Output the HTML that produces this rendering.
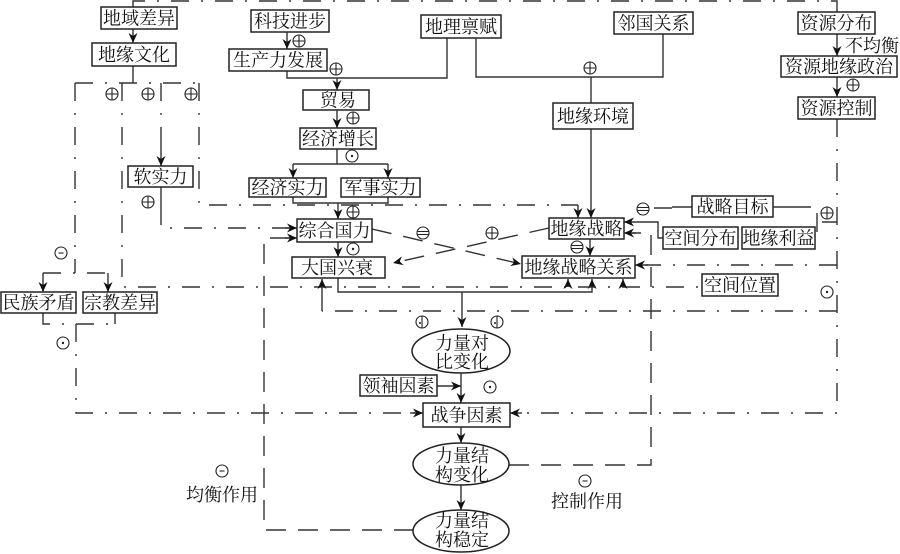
<!DOCTYPE html>
<html><head><meta charset="utf-8"><style>
html,body{margin:0;padding:0;background:#fff;}
svg{display:block;}
text{font-family:"Liberation Serif","Noto Serif CJK SC","Noto Sans CJK SC",serif;font-size:18px;fill:#111;}
.b{fill:#fff;stroke:#222;stroke-width:1.5;}
.s{fill:none;stroke:#333;stroke-width:1.4;}
.dd{fill:none;stroke:#333;stroke-width:1.4;stroke-dasharray:18 12 2 12;}
.da{fill:none;stroke:#333;stroke-width:1.4;stroke-dasharray:20 12;}
.c{fill:#fff;stroke:#222;stroke-width:1.1;}
.m{stroke:#222;stroke-width:1.1;fill:none;}
</style></head><body>
<svg width="900" height="554" viewBox="0 0 900 554" xmlns="http://www.w3.org/2000/svg">
<defs>
<marker id="a" markerUnits="userSpaceOnUse" markerWidth="11" markerHeight="9" refX="10" refY="4.5" orient="auto">
<path d="M0,0 L10,4.5 L0,9 L3,4.5 z" fill="#111"/>
</marker>
<g id="plus"><circle class="c" cx="0" cy="0" r="6"/><path class="m" d="M-6,0H6M0,-6V6"/></g>
<g id="dot"><circle class="c" cx="0" cy="0" r="6"/><circle cx="0" cy="0" r="1.2" fill="#222"/></g>
<g id="minus"><circle class="c" cx="0" cy="0" r="6"/><path class="m" d="M-2.5,0H2.5"/></g>
<g id="eq"><circle class="c" cx="0" cy="0" r="6"/><path class="m" d="M-6,-1.5H6M-6,1.5H6"/></g>
<g id="vb"><circle class="c" cx="0" cy="0" r="6"/><path class="m" d="M0,-6V6"/><circle cx="-2" cy="1" r="1" fill="#222"/></g>
</defs>

<!-- ===== connectors ===== -->
<!-- top loop -->
<path class="dd" d="M133,7 V1 H837 V12"/>
<path class="s" d="M133,29 V43" marker-end="url(#a)"/>
<path class="s" d="M287,32 V49" marker-end="url(#a)"/>
<path class="s" d="M287,71 V78 H447 V38"/>
<path class="s" d="M337,78 V90" marker-end="url(#a)"/>
<path class="s" d="M476,38 V77 H663 V34"/>
<path class="s" d="M591,77 V103"/>
<path class="s" d="M591,129 V218" marker-end="url(#a)"/>
<path class="s" d="M837,34 V56" marker-end="url(#a)"/>
<path class="s" d="M837,77 V97" marker-end="url(#a)"/>
<path class="s" d="M337,110 V128" marker-end="url(#a)"/>
<path class="s" d="M337,149 V164 M293,164 H388"/>
<path class="s" d="M293,164 V178" marker-end="url(#a)"/>
<path class="s" d="M388,164 V178" marker-end="url(#a)"/>
<path class="s" d="M293,197 V203 H388 V197"/>
<path class="s" d="M338,203 V219" marker-end="url(#a)"/>
<path class="s" d="M338,242 V257" marker-end="url(#a)"/>
<path class="s" d="M338,278 V292 H592 V279" marker-end="url(#a)"/>
<path class="s" d="M462,292 V327" marker-end="url(#a)"/>
<path class="s" d="M590,239 V256" marker-end="url(#a)"/>
<!-- cross lines -->
<path class="da" d="M372,229 L521,264" marker-end="url(#a)"/>
<path class="da" d="M549,228 L393,263" marker-end="url(#a)"/>
<!-- 地缘文化 branches -->
<path class="s" d="M133,66 V83"/>
<path class="dd" d="M75,83 H199"/>
<path class="dd" d="M75,83 V273"/>
<path class="dd" d="M43,273 H108"/>
<path class="s" d="M43,273 V292" marker-end="url(#a)"/>
<path class="s" d="M108,273 V292" marker-end="url(#a)"/>
<path class="dd" d="M122,83 V287 H702"/>
<path class="dd" d="M161,83 V130"/>
<path class="s" d="M161,130 V166" marker-end="url(#a)"/>
<path class="dd" d="M199,83 V205 H578"/>
<path class="s" d="M578,205 V218" marker-end="url(#a)"/>
<path class="s" d="M161,187 V207"/>
<path class="dd" d="M161,207 V228 H290"/>
<path class="s" d="M285,228 H297" marker-end="url(#a)"/>
<path class="s" d="M568,287 V279" marker-end="url(#a)"/>
<path class="s" d="M623,287 V279" marker-end="url(#a)"/>
<!-- 民族/宗教 -->
<path class="dd" d="M43,313 V324 H115"/>
<path class="s" d="M115,313 V324"/>
<path class="dd" d="M76,324 V413 H415"/>
<path class="s" d="M410,413 H423" marker-end="url(#a)"/>
<!-- 均衡作用 loop -->
<path class="da" d="M414,530 H264 V238 H290"/>
<path class="s" d="M285,238 H297" marker-end="url(#a)"/>
<!-- 控制作用 loop -->
<path class="da" d="M509,465 H651 V233 H632"/>
<path class="s" d="M636,233 H624" marker-end="url(#a)"/>
<!-- 空间分布 -->
<path class="s" d="M663,238 H658 V222 H624" marker-end="url(#a)"/>
<!-- 战略目标 -->
<path class="s" d="M692,207 H672"/>
<path class="dd" d="M672,208 H650"/>
<path class="s" d="M773,207 H793"/>
<path class="dd" d="M793,207 H812"/>
<!-- 地缘利益 right -->
<path class="s" d="M817,213 V232 M822,222 H837"/>
<!-- right vertical -->
<path class="dd" d="M837,119 V413 H518"/>
<path class="s" d="M522,413 H510" marker-end="url(#a)"/>
<path class="dd" d="M837,265 H645"/>
<path class="s" d="M648,265 H635" marker-end="url(#a)"/>
<path class="dd" d="M837,311 H322"/>
<path class="s" d="M322,311 V279" marker-end="url(#a)"/>
<!-- lower chain -->
<path class="s" d="M437,386 H461" marker-end="url(#a)"/>
<path class="s" d="M461,373 V403" marker-end="url(#a)"/>
<path class="s" d="M461,427 V443" marker-end="url(#a)"/>
<path class="s" d="M461,485 V510" marker-end="url(#a)"/>

<!-- ===== boxes ===== -->
<rect class="b" x="101" y="7" width="76" height="22"/><text x="139" y="24.5" text-anchor="middle">地域差异</text>
<rect class="b" x="92" y="43" width="84" height="23"/><text x="134" y="61" text-anchor="middle">地缘文化</text>
<rect class="b" x="251" y="10" width="78" height="22"/><text x="290" y="27.5" text-anchor="middle">科技进步</text>
<rect class="b" x="229" y="49" width="98" height="22"/><text x="278" y="66.5" text-anchor="middle">生产力发展</text>
<rect class="b" x="421" y="15" width="80" height="23"/><text x="461" y="33" text-anchor="middle">地理禀赋</text>
<rect class="b" x="614" y="12" width="79" height="22"/><text x="653.5" y="29.5" text-anchor="middle">邻国关系</text>
<rect class="b" x="798" y="12" width="77" height="22"/><text x="836.5" y="29.5" text-anchor="middle">资源分布</text>
<text x="845" y="52">不均衡</text>
<rect class="b" x="781" y="56" width="116" height="21"/><text x="839" y="73" text-anchor="middle">资源地缘政治</text>
<rect class="b" x="798" y="97" width="77" height="22"/><text x="836.5" y="114.5" text-anchor="middle">资源控制</text>
<rect class="b" x="553" y="103" width="80" height="26"/><text x="593" y="122.5" text-anchor="middle">地缘环境</text>
<rect class="b" x="303" y="90" width="66" height="20"/><text x="338" y="106.5" text-anchor="middle">贸易</text>
<rect class="b" x="300" y="128" width="76" height="21"/><text x="338" y="145" text-anchor="middle">经济增长</text>
<rect class="b" x="249" y="178" width="77" height="19"/><text x="287.5" y="194" text-anchor="middle">经济实力</text>
<rect class="b" x="341" y="178" width="79" height="19"/><text x="380.5" y="194" text-anchor="middle">军事实力</text>
<rect class="b" x="128" y="166" width="65" height="21"/><text x="160.5" y="183" text-anchor="middle">软实力</text>
<rect class="b" x="297" y="219" width="75" height="23"/><text x="334.5" y="237" text-anchor="middle">综合国力</text>
<rect class="b" x="292" y="257" width="93" height="21"/><text x="337" y="274" text-anchor="middle">大国兴衰</text>
<rect class="b" x="549" y="218" width="75" height="21"/><text x="586.5" y="235" text-anchor="middle">地缘战略</text>
<rect class="b" x="522" y="256" width="113" height="22"/><text x="578.5" y="273.5" text-anchor="middle">地缘战略关系</text>
<rect class="b" x="692" y="196" width="81" height="21"/><text x="732.5" y="213" text-anchor="middle">战略目标</text>
<rect class="b" x="663" y="227" width="75" height="22"/><text x="700.5" y="244.5" text-anchor="middle">空间分布</text>
<rect class="b" x="742" y="227" width="73" height="22"/><text x="778.5" y="244.5" text-anchor="middle">地缘利益</text>
<rect class="b" x="702" y="274" width="76" height="22"/><text x="740" y="291.5" text-anchor="middle">空间位置</text>
<rect class="b" x="1" y="292" width="75" height="21"/><text x="38.5" y="309" text-anchor="middle">民族矛盾</text>
<rect class="b" x="83" y="292" width="74" height="21"/><text x="120" y="309" text-anchor="middle">宗教差异</text>
<rect class="b" x="360" y="375" width="77" height="21"/><text x="398.5" y="392" text-anchor="middle">领袖因素</text>
<rect class="b" x="423" y="403" width="87" height="24"/><text x="466.5" y="421.5" text-anchor="middle">战争因素</text>

<!-- ellipses -->
<ellipse class="b" cx="461" cy="351" rx="49" ry="22"/>
<text x="462" y="349.5" text-anchor="middle">力量对</text><text x="462" y="368" text-anchor="middle">比变化</text>
<ellipse class="b" cx="461" cy="464" rx="48" ry="21"/>
<text x="462" y="462" text-anchor="middle">力量结</text><text x="462" y="481" text-anchor="middle">构变化</text>
<ellipse class="b" cx="461" cy="531" rx="48" ry="21"/>
<text x="462" y="527" text-anchor="middle">力量结</text><text x="462" y="546" text-anchor="middle">构稳定</text>

<!-- labels -->
<text x="222" y="501" text-anchor="middle">均衡作用</text>
<text x="587" y="507.5" text-anchor="middle">控制作用</text>

<!-- symbols -->
<use href="#plus" x="299" y="41"/>
<use href="#plus" x="336" y="69"/>
<use href="#plus" x="590" y="68"/>
<use href="#plus" x="853" y="85"/>
<use href="#plus" x="353" y="118"/>
<use href="#dot" x="352" y="156"/>
<use href="#plus" x="353" y="212"/>
<use href="#dot" x="353" y="249"/>
<use href="#plus" x="112" y="94"/>
<use href="#plus" x="148" y="94"/>
<use href="#plus" x="191" y="94"/>
<use href="#plus" x="148" y="202"/>
<use href="#minus" x="61" y="253"/>
<use href="#dot" x="63" y="343"/>
<use href="#eq" x="423" y="233"/>
<use href="#plus" x="492" y="233"/>
<use href="#eq" x="577" y="247"/>
<use href="#eq" x="643" y="209"/>
<use href="#plus" x="827" y="213"/>
<use href="#dot" x="827" y="292"/>
<use href="#vb" x="422" y="322"/>
<use href="#vb" x="497" y="322"/>
<use href="#dot" x="490" y="387"/>
<use href="#minus" x="222" y="471"/>
<use href="#minus" x="585" y="481"/>
</svg>
</body></html>
